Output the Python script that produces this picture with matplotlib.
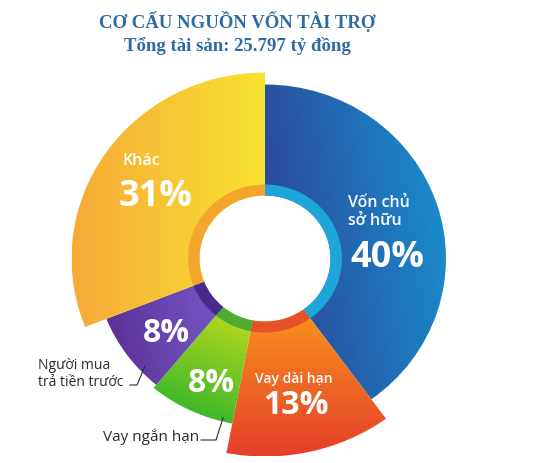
import numpy as np
import matplotlib
matplotlib.use("Agg")
import matplotlib.pyplot as plt
from matplotlib.patches import Wedge
from matplotlib.colors import to_rgb
from matplotlib.transforms import Affine2D

# ---- data ----
title = "CƠ CẤU NGUỒN VỐN TÀI TRỢ"
subtitle = "Tổng tài sản: 25.797 tỷ đồng"
categories = ["Vốn chủ\nsở hữu", "Vay dài hạn", "Vay ngắn hạn", "Người mua\ntrả tiền trước", "Khác"]
values = [40, 13, 8, 8, 31]

# ---- styles ----
radii = [174, 198, 168, 164, 186]
grad_from = ["#2b4a9c", "#f8941e", "#3fb82a", "#5a3298", "#f6aa38"]
grad_to = ["#1a8aca", "#e6402a", "#bcd91c", "#7657c6", "#f9e331"]
grad_dir = [(1, 0.15), (0, -1), (0.4, 1), (1, 0.1), (1, 0)]
ring_col = ["#1ea6da", "#e4522a", "#4cac34", "#4a2a8a", "#f4a62c"]

W, H = 555, 463
fig = plt.figure(figsize=(W / 100, H / 100), dpi=100)
ax = fig.add_axes([0, 0, 1, 1])
ax.set_xlim(0, W)
ax.set_ylim(0, H)
ax.set_aspect("equal")
ax.axis("off")

cx, cy = 265, H - 258.5
sx = 1.04
r_hole = 63
r_ring = 74
stretch = Affine2D().translate(-cx, -cy).scale(sx, 1).translate(cx, cy) + ax.transData

total = sum(values)
start = 90.0
for v, r, c0, c1, d, rc in zip(values, radii, grad_from, grad_to, grad_dir, ring_col):
    span = 360.0 * v / total
    t1, t2 = start - span, start
    w = Wedge((cx, cy), r, t1, t2, width=r - r_hole, facecolor="none", edgecolor="none",
              transform=stretch)
    ax.add_patch(w)
    n = 220
    xs = np.linspace(cx - r, cx + r, n)
    ys = np.linspace(cy - r, cy + r, n)
    X, Y = np.meshgrid(xs, ys)
    dx, dy = d
    proj = (X - cx) * dx + (Y - cy) * dy
    ang = np.degrees(np.arctan2(Y - cy, X - cx))
    rr = np.hypot(X - cx, Y - cy)
    a = (ang - t1) % 360
    mask = (rr <= r) & (rr >= r_hole) & (a <= span)
    pmin, pmax = proj[mask].min(), proj[mask].max()
    t = np.clip((proj - pmin) / (pmax - pmin), 0, 1)[..., None]
    img = (1 - t) * np.array(to_rgb(c0)) + t * np.array(to_rgb(c1))
    im = ax.imshow(img, extent=(cx - r * sx, cx + r * sx, cy - r, cy + r), origin="lower",
                   interpolation="bilinear", zorder=1, aspect="auto")
    im.set_clip_path(w)
    ring = Wedge((cx, cy), r_ring, t1, t2, width=r_ring - r_hole, facecolor=rc,
                 edgecolor="none", zorder=2, transform=stretch)
    ax.add_patch(ring)
    start = t1

ax.set_xlim(0, W)
ax.set_ylim(0, H)

def P(x, y):
    return x, H - y

title_col = "#2e6aa6"
ax.text(*P(237, 22), title, ha="center", va="center", fontsize=13.5, fontweight="bold",
        family="Liberation Serif", color=title_col)
ax.text(*P(237, 46), subtitle, ha="center", va="center", fontsize=13.5, fontweight="bold",
        family="Liberation Serif", color=title_col)

sans = "Open Sans"
# in-slice labels
ax.text(*P(122, 161), categories[4], ha="left", va="center", fontsize=11.5, fontweight="semibold",
        color="white", family=sans, zorder=5)
ax.text(*P(119, 197), f"{values[4]}%", ha="left", va="center", fontsize=26, fontweight="bold",
        color="white", family=sans, zorder=5)

ax.text(*P(348, 212), categories[0], ha="left", va="center", fontsize=11.5, fontweight="semibold",
        color="white", family=sans, linespacing=1.2, zorder=5)
ax.text(*P(350, 258), f"{values[0]}%", ha="left", va="center", fontsize=26, fontweight="bold",
        color="white", family=sans, zorder=5)

ax.text(*P(294, 379), categories[1], ha="center", va="center", fontsize=10, fontweight="semibold",
        color="white", family=sans, zorder=5)
ax.text(*P(296, 405), f"{values[1]}%", ha="center", va="center", fontsize=23, fontweight="bold",
        color="white", family=sans, zorder=5)

ax.text(*P(211, 383), f"{values[2]}%", ha="center", va="center", fontsize=23, fontweight="bold",
        color="white", family=sans, zorder=5)
ax.text(*P(166, 334), f"{values[3]}%", ha="center", va="center", fontsize=23, fontweight="bold",
        color="white", family=sans, zorder=5)

# external labels
dark = "#2b2b2b"
ax.text(*P(38, 374), categories[3], ha="left", va="center", fontsize=10, color=dark, family=sans,
        linespacing=1.25, zorder=5)
lx = [130, 137, 145]
ly = [385, 385, 366]
ax.plot(lx, [H - y for y in ly], color=dark, lw=0.8, zorder=5)
ax.text(*P(103, 437), categories[2], ha="left", va="center", fontsize=11, color=dark, family=sans, zorder=5)
lx2 = [201, 216, 223]
ly2 = [440, 440, 418]
ax.plot(lx2, [H - y for y in ly2], color=dark, lw=0.8, zorder=5)

fig.savefig("out.png", dpi=100)
